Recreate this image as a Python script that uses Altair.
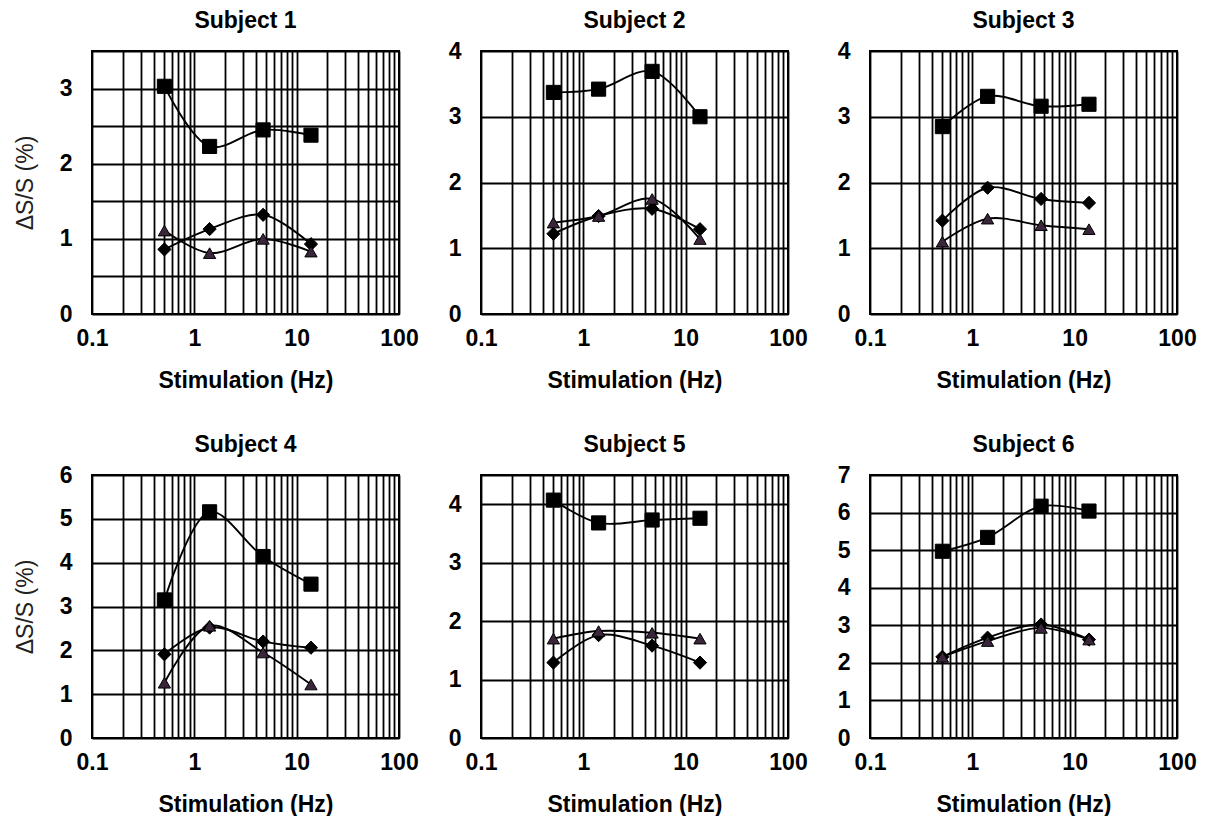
import altair as alt
import pandas as pd

FONT = "Liberation Sans"

subjects = ["Subject 1", "Subject 2", "Subject 3", "Subject 4", "Subject 5", "Subject 6"]
freq = [0.51, 1.41, 4.7, 13.8]
y_max = [3.5, 4, 4, 6, 4.5, 7]
y_step = [0.5, 1, 1, 1, 1, 1]

square = [
    [3.03, 2.23, 2.45, 2.38],
    [3.37, 3.42, 3.69, 3.00],
    [2.85, 3.31, 3.16, 3.19],
    [3.15, 5.16, 4.14, 3.51],
    [4.07, 3.68, 3.73, 3.76],
    [4.97, 5.34, 6.17, 6.04],
]
diamond = [
    [0.86, 1.13, 1.32, 0.93],
    [1.22, 1.49, 1.60, 1.29],
    [1.42, 1.92, 1.75, 1.69],
    [1.91, 2.52, 2.20, 2.06],
    [1.29, 1.76, 1.58, 1.29],
    [2.16, 2.67, 3.02, 2.62],
]
triangle = [
    [1.11, 0.81, 1.00, 0.83],
    [1.39, 1.49, 1.75, 1.14],
    [1.10, 1.45, 1.35, 1.29],
    [1.26, 2.56, 1.95, 1.22],
    [1.70, 1.83, 1.80, 1.70],
    [2.16, 2.58, 2.93, 2.62],
]

x_grid = [0.1, 0.2, 0.3, 0.4, 0.5, 0.6, 0.7, 0.8, 0.9,
          1, 2, 3, 4, 5, 6, 7, 8, 9,
          10, 20, 30, 40, 50, 60, 70, 80, 90, 100]

series_names = ["square", "diamond", "triangle"]
series_data = [square, diamond, triangle]

W, H = 307, 263
FS = 23


def panel(i):
    rows = []
    for name, vals in zip(series_names, series_data):
        for f, v in zip(freq, vals[i]):
            rows.append({"f": f, "v": v, "s": name})
    df = pd.DataFrame(rows)

    n = int(y_max[i] / y_step[i] + 1e-9)
    y_vals = [round(k * y_step[i], 2) for k in range(n + 1)]
    if y_vals[-1] < y_max[i]:
        y_vals.append(y_max[i])

    x_enc = alt.X(
        "f:Q",
        scale=alt.Scale(type="log", domain=[0.1, 100], nice=False),
        axis=alt.Axis(
            values=x_grid,
            labelExpr="(datum.value == 0.1 || datum.value == 1 || datum.value == 10 || datum.value == 100) ? datum.label : ''",
            format="~g",
            labelOverlap=False,
            labelFlush=False,
            title="Stimulation (Hz)",
            titleFont=FONT, titleFontSize=FS, titleFontWeight="bold", titleColor="black",
            titlePadding=19,
            labelFont=FONT, labelFontSize=FS, labelFontWeight="bold", labelColor="black",
            labelPadding=13,
            ticks=False, tickSize=0, domain=False,
            grid=True, gridColor="black", gridWidth=1.8, gridOpacity=1,
        ),
    )
    y_title = "\u0394S/S (%)" if i in (0, 3) else ""
    y_enc = alt.Y(
        "v:Q",
        scale=alt.Scale(domain=[0, y_max[i]], nice=False, zero=True),
        axis=alt.Axis(
            values=y_vals,
            format="~g",
            labelExpr="datum.value % 1 == 0 && datum.value < %s ? datum.label : ''".replace("%s", str(y_max[i] + 0.01)),
            labelOverlap=False,
            labelFlush=False,
            title=y_title,
            titleFont=FONT, titleFontSize=FS, titleFontWeight="normal", titleColor="#222222",
            titlePadding=22,
            labelFont=FONT, labelFontSize=FS, labelFontWeight="bold", labelColor="black",
            labelPadding=20,
            ticks=False, tickSize=0, domain=False,
            grid=True, gridColor="black", gridWidth=1.8, gridOpacity=1,
        ),
    )

    lines = alt.Chart(df).mark_line(
        color="black", strokeWidth=1.9, interpolate="catmull-rom"
    ).encode(x=x_enc, y=y_enc, detail="s:N", order="f:Q")

    pts = alt.Chart(df).mark_point(filled=True, opacity=1, stroke="black", strokeWidth=1).encode(
        x=x_enc,
        y=y_enc,
        shape=alt.Shape("s:N", scale=alt.Scale(domain=series_names,
                                               range=["square", "diamond", "triangle-up"]), legend=None),
        size=alt.Size("s:N", scale=alt.Scale(domain=series_names, range=[200, 150, 230]), legend=None),
        fill=alt.Fill("s:N", scale=alt.Scale(domain=series_names,
                                             range=["black", "black", "#3a263a"]), legend=None),
    )

    return alt.layer(lines, pts).properties(
        width=W, height=H,
        title=alt.TitleParams(text=subjects[i], font=FONT, fontSize=FS, fontWeight="bold",
                              color="black", anchor="middle", frame="group", offset=7),
    )


chart = alt.concat(
    *[panel(i) for i in range(6)], columns=3,
    spacing={"row": 161, "column": 82}, bounds="flush",
).configure_view(
    stroke="black", strokeWidth=2
).properties(padding={"left": 13, "top": 9, "right": 5, "bottom": 5}, background="white")

chart.save("out.html", embed_options={"renderer": "svg", "actions": False})
